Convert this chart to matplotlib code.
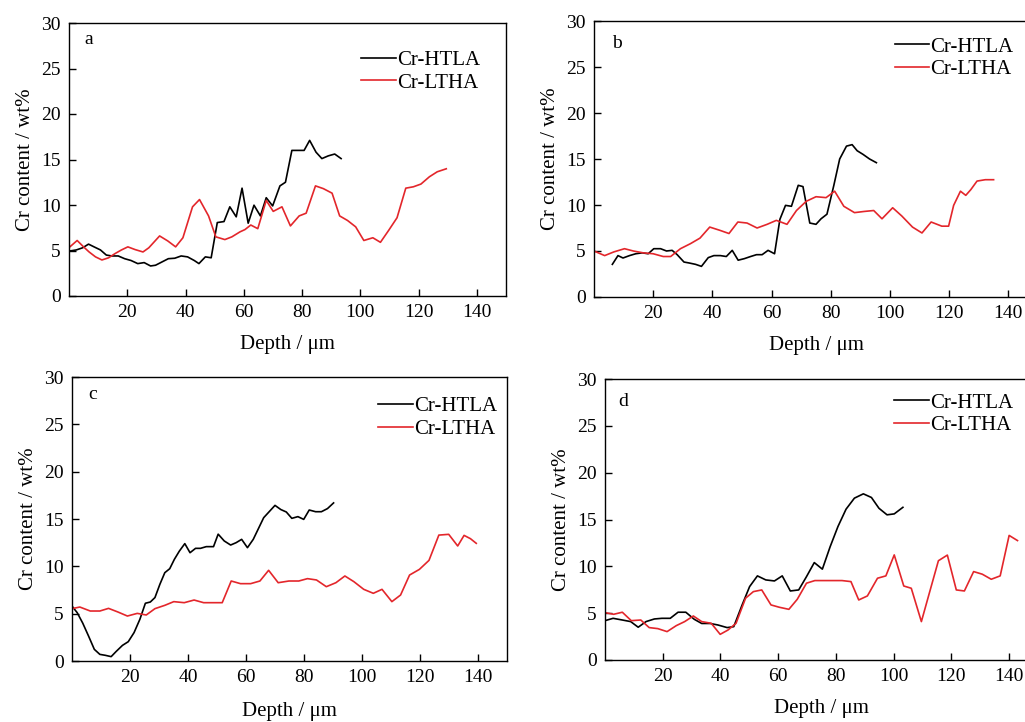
import numpy as np
import matplotlib
matplotlib.use("Agg")
import matplotlib.pyplot as plt

plt.rcParams["font.family"] = ["Liberation Serif", "DejaVu Serif"]
plt.rcParams["font.size"] = 14

# ---- panel a ----
a_htla_x = [0.3, 2.5, 4.7, 6.7, 8.6, 10.8, 12.8, 14.7, 16.9, 19.1, 21.3, 23.6, 25.8, 28.0, 29.7, 31.9,
            34.1, 36.3, 38.5, 40.7, 43.0, 44.6, 46.8, 48.8, 50.9, 53.2, 55.2, 57.4, 59.4, 61.5, 63.5,
            65.7, 67.7, 69.9, 72.4, 74.3, 76.5, 78.7, 80.7, 82.6, 84.8, 86.8, 89.0, 91.2, 93.4]
a_htla_y = [4.95, 5.06, 5.3, 5.7, 5.4, 5.06, 4.5, 4.4, 4.4, 4.1, 3.9, 3.56, 3.67, 3.3, 3.38, 3.74,
            4.1, 4.15, 4.4, 4.3, 3.9, 3.56, 4.3, 4.2, 8.07, 8.18, 9.8, 8.7, 11.85, 8.0, 9.98,
            8.8, 10.8, 9.9, 12.1, 12.5, 16.0, 16.0, 16.0, 17.1, 15.8, 15.1, 15.4, 15.6, 15.1]
a_ltha_x = [0.3, 2.8, 5.0, 6.9, 9.1, 11.3, 13.6, 15.8, 18.0, 20.2, 22.7, 25.4, 27.4, 31.1, 33.9, 36.6,
            39.1, 42.4, 44.8, 47.9, 50.4, 53.5, 55.9, 58.7, 60.4, 62.4, 64.8, 67.7, 70.1, 73.1, 76.0,
            79.0, 81.4, 84.6, 87.3, 90.3, 92.9, 95.6, 98.4, 101.2, 104.3, 106.9, 109.7, 112.6, 115.6,
            118.2, 120.8, 123.7, 126.4, 129.5]
a_ltha_y = [5.4, 6.1, 5.4, 4.84, 4.3, 3.96, 4.2, 4.66, 5.06, 5.4, 5.1, 4.84, 5.3, 6.6, 6.05, 5.4,
            6.4, 9.8, 10.6, 8.8, 6.5, 6.2, 6.5, 7.05, 7.3, 7.8, 7.4, 10.5, 9.3, 9.8, 7.7,
            8.8, 9.1, 12.1, 11.8, 11.3, 8.8, 8.3, 7.6, 6.1, 6.4, 5.9, 7.2, 8.6, 11.85,
            12.0, 12.3, 13.1, 13.65, 13.98]

# ---- panel b ----
b_htla_x = [6.2, 8.1, 9.8, 12.0, 14.1, 16.3, 18.3, 20.2, 22.5, 24.5, 26.4, 28.1, 30.4, 32.1, 34.3,
            36.3, 38.6, 40.5, 42.7, 44.7, 46.7, 48.7, 50.8, 52.9, 54.9, 56.8, 58.8, 61.0, 62.8, 64.7,
            66.7, 69.0, 70.6, 72.9, 75.0, 76.7, 78.7, 81.0, 83.0, 85.3, 87.2, 88.9, 90.9, 93.1, 95.4]
b_htla_y = [3.55, 4.5, 4.24, 4.5, 4.7, 4.8, 4.7, 5.25, 5.25, 5.0, 5.07, 4.6, 3.8, 3.7, 3.55,
            3.33, 4.28, 4.5, 4.5, 4.4, 5.07, 4.0, 4.17, 4.4, 4.6, 4.6, 5.07, 4.7, 8.44, 9.96,
            9.86, 12.14, 12.0, 8.04, 7.9, 8.5, 9.0, 12.1, 15.0, 16.4, 16.56, 15.9, 15.5, 15.0, 14.6]
b_ltha_x = [0.0, 3.6, 6.7, 10.3, 13.3, 16.6, 20.0, 23.4, 25.9, 29.2, 32.6, 35.8, 39.1, 42.5, 45.6,
            48.6, 51.7, 55.1, 58.5, 61.6, 65.2, 68.4, 71.7, 75.0, 78.4, 81.3, 84.4, 88.0, 91.3, 94.5,
            97.3, 100.9, 104.0, 107.6, 110.8, 113.9, 117.5, 119.8, 121.5, 123.8, 125.6, 127.3, 129.4,
            132.2, 135.0]
b_ltha_y = [5.0, 4.5, 4.9, 5.25, 5.0, 4.8, 4.7, 4.4, 4.4, 5.25, 5.8, 6.4, 7.6, 7.25, 6.9,
            8.15, 8.04, 7.5, 7.9, 8.33, 7.9, 9.4, 10.4, 10.9, 10.8, 11.5, 9.86, 9.17, 9.3, 9.4,
            8.5, 9.7, 8.8, 7.6, 6.96, 8.15, 7.7, 7.7, 9.96, 11.5, 11.05, 11.67, 12.6,
            12.75, 12.75]

# ---- panel c ----
c_htla_x = [0.0, 1.8, 3.7, 5.7, 7.7, 9.6, 11.5, 13.5, 15.2, 17.4, 19.4, 21.4, 23.4, 25.3, 27.0, 28.6,
            30.3, 32.0, 33.7, 35.3, 37.0, 38.9, 40.7, 42.6, 44.3, 46.3, 48.8, 50.4, 52.5, 54.7, 56.6,
            58.5, 60.5, 62.5, 66.1, 70.0, 72.0, 73.9, 75.8, 77.9, 79.9, 81.8, 84.0, 86.0, 88.1, 90.2]
c_htla_y = [5.8, 5.1, 4.0, 2.64, 1.23, 0.7, 0.6, 0.46, 1.0, 1.65, 2.04, 3.0, 4.4, 6.1, 6.23, 6.7,
            8.1, 9.33, 9.75, 10.74, 11.6, 12.4, 11.44, 11.9, 11.9, 12.08, 12.08, 13.4, 12.68, 12.25, 12.5,
            12.85, 11.97, 12.85, 15.14, 16.44, 16.0, 15.74, 15.07, 15.25, 14.96, 15.95, 15.77, 15.77,
            16.1, 16.7]
c_ltha_x = [0.0, 2.7, 6.3, 9.6, 12.6, 15.8, 19.1, 22.5, 25.6, 28.6, 32.0, 35.1, 38.7, 42.1, 45.4,
            48.5, 51.8, 54.9, 58.1, 61.6, 64.8, 67.8, 71.1, 74.8, 78.2, 81.2, 84.3, 87.7, 91.0, 94.1,
            97.2, 100.6, 103.9, 106.9, 110.3, 113.3, 116.4, 119.8, 123.1, 126.5, 129.9, 133.0, 135.2,
            137.4, 139.4]
c_ltha_y = [5.53, 5.7, 5.28, 5.28, 5.56, 5.18, 4.75, 5.03, 4.86, 5.53, 5.88, 6.27, 6.16, 6.44, 6.16,
            6.16, 6.16, 8.45, 8.17, 8.17, 8.45, 9.58, 8.27, 8.45, 8.45, 8.7, 8.56, 7.85, 8.27, 8.98,
            8.38, 7.57, 7.15, 7.57, 6.27, 6.97, 9.08, 9.68, 10.63, 13.3, 13.38, 12.15, 13.27,
            12.92, 12.43]

# ---- panel d ----
d_htla_x = [0.0, 2.8, 6.0, 8.9, 11.5, 14.2, 17.1, 19.7, 22.6, 25.3, 28.0, 30.9, 33.5, 36.4, 39.1,
            42.3, 44.6, 47.5, 50.1, 52.8, 55.7, 58.7, 61.4, 64.2, 67.1, 69.8, 72.5, 75.3, 78.0, 80.7,
            83.5, 86.4, 89.5, 92.3, 94.9, 97.7, 100.2, 103.2]
d_htla_y = [4.2, 4.45, 4.27, 4.1, 3.5, 4.1, 4.38, 4.45, 4.45, 5.1, 5.1, 4.35, 3.9, 3.9, 3.74,
            3.46, 3.56, 5.88, 7.84, 8.98, 8.55, 8.44, 8.98, 7.37, 7.48, 8.9, 10.4, 9.7, 12.1, 14.25,
            16.1, 17.28, 17.74, 17.35, 16.2, 15.5, 15.6, 16.3]
d_ltha_x = [0.0, 3.0, 6.0, 9.1, 12.4, 15.3, 18.3, 21.5, 24.7, 27.6, 30.6, 33.5, 36.8, 39.9, 42.6,
            45.4, 48.7, 51.4, 54.3, 57.5, 60.4, 63.7, 66.6, 69.8, 72.7, 75.6, 78.9, 82.1, 85.2, 87.9,
            90.9, 94.4, 97.3, 100.2, 103.5, 106.1, 109.6, 112.5, 115.5, 118.6, 121.7, 124.5, 127.7,
            130.7, 133.8, 136.9, 140.0, 142.9]
d_ltha_y = [5.06, 4.88, 5.1, 4.2, 4.27, 3.46, 3.35, 3.03, 3.67, 4.1, 4.7, 4.1, 3.92, 2.74, 3.2,
            3.92, 6.6, 7.3, 7.48, 5.88, 5.63, 5.41, 6.48, 8.2, 8.48, 8.48, 8.48, 8.48, 8.37, 6.41,
            6.84, 8.73, 8.98, 11.22, 7.9, 7.66, 4.1, 7.3, 10.6, 11.2, 7.48, 7.37, 9.44,
            9.16, 8.62, 8.98, 13.3, 12.75]

labels = ["a", "b", "c", "d"]
series = [(a_htla_x, a_htla_y, a_ltha_x, a_ltha_y),
          (b_htla_x, b_htla_y, b_ltha_x, b_ltha_y),
          (c_htla_x, c_htla_y, c_ltha_x, c_ltha_y),
          (d_htla_x, d_htla_y, d_ltha_x, d_ltha_y)]

W, H = 1025, 722
# axes boxes in pixels: left, top, right, bottom
boxes = [(69, 23, 506, 296), (594, 21, 1038, 297), (72, 377, 507, 661), (605, 379, 1038, 660)]
leg_pos = [(0.94, 0.90), (0.944, 0.942), (0.977, 0.93), (0.942, 0.95)]
let_pos = [(0.046, 0.938), (0.052, 0.92), (0.048, 0.94), (0.042, 0.92)]
xlab_pad = [10, 10, 11, 10]

red = "#e3262b"

fig = plt.figure(figsize=(W / 100, H / 100), dpi=100)
for i in range(4):
    l, t, r, b = boxes[i]
    ax = fig.add_axes([l / W, (H - b) / H, (r - l) / W, (b - t) / H])
    hx, hy, lx, ly = series[i]
    ax.plot(hx, hy, color="black", lw=1.2, label="Cr-HTLA")
    ax.plot(lx, ly, color=red, lw=1.2, label="Cr-LTHA")
    ax.set_xlim(0, 150)
    ax.set_ylim(0, 30)
    ax.set_xticks(range(20, 141, 20))
    ax.set_yticks(range(0, 31, 5))
    ax.tick_params(direction="in", length=5, width=1, labelsize=14, pad=6)
    for s in ax.spines.values():
        s.set_linewidth(1.0)
    ax.set_xlabel("Depth / μm", fontsize=15, labelpad=xlab_pad[i])
    ax.set_ylabel("Cr content / wt%", fontsize=15, labelpad=4)
    ax.text(let_pos[i][0], let_pos[i][1], labels[i], transform=ax.transAxes,
            fontsize=14, ha="center", va="center")
    ax.legend(loc="upper right", bbox_to_anchor=leg_pos[i], frameon=False, fontsize=15,
              handlelength=1.65, handletextpad=0.05, labelspacing=0.15, borderpad=0,
              borderaxespad=0)

plt.savefig("out.png", dpi=100)
